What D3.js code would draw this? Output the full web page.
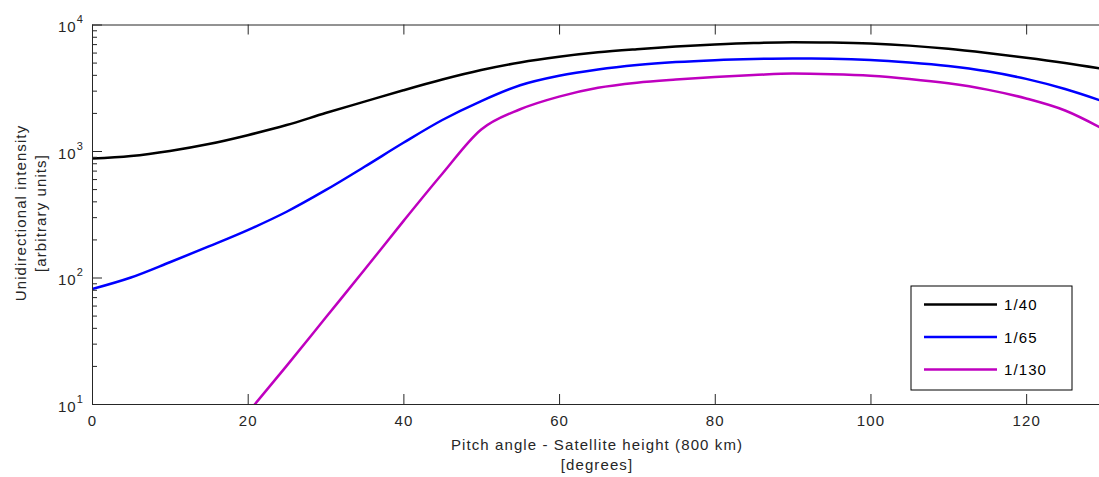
<!DOCTYPE html>
<html>
<head>
<meta charset="utf-8">
<script src="https://cdn.jsdelivr.net/npm/d3@7"></script>
<style>
  body { margin: 0; background: #fff; }
  svg { display: block; font-family: "Liberation Sans", Arial, sans-serif; }
  text { letter-spacing: 1.1px; }
</style>
</head>
<body>
<svg id="chart" width="1099" height="477"></svg>
<script>
// pitch angle samples (degrees)
var angles = [0,5,10,15,20,25,30,35,40,45,50,55,60,65,70,75,80,85,90,95,100,105,110,115,120,125,130];
var series40  = [871,912,1000,1135,1334,1603,1995,2455,3020,3673,4365,5012,5559,6026,6383,6699,6950,7145,7244,7194,7063,6808,6427,5957,5470,4966,4446];
var series65  = [81,100,132,176,237,331,490,750,1161,1758,2483,3311,3936,4416,4786,5047,5224,5333,5383,5358,5248,5012,4699,4266,3715,3090,2455];
var series130 = [null,null,null,null,8.5,20,48,115,279,661,1479,2138,2692,3162,3467,3673,3846,3981,4093,4046,3936,3715,3428,3055,2600,2089,1479];
var seriesNames = ['1/40','1/65','1/130'];
var seriesColors = ['#000000','#0000ff','#bf00bf'];
var xTicks = [0,20,40,60,80,100,120];
var yDecades = [10,100,1000,10000];

var svg = d3.select('#chart');
var plotLeft = 92, plotRight = 1104, plotTop = 24.5, plotBottom = 404;
var axisColor = '#262626';

var x = d3.scaleLinear().domain([0,130]).range([plotLeft,plotRight]);
var y = d3.scaleLog().domain([10,10000]).range([plotBottom,plotTop]);

svg.append('defs').append('clipPath').attr('id','plotclip')
  .append('rect').attr('x',plotLeft).attr('y',plotTop)
  .attr('width',plotRight-plotLeft).attr('height',plotBottom-plotTop);

// curves
var allSeries = [series40,series65,series130];
var line = d3.line()
  .defined(function(d){return d[1]!=null;})
  .x(function(d){return x(d[0]);})
  .y(function(d){return y(d[1]);})
  .curve(d3.curveMonotoneX);

var plot = svg.append('g').attr('clip-path','url(#plotclip)');
allSeries.forEach(function(s,i){
  var pts = angles.map(function(a,j){return [a,s[j]];});
  plot.append('path')
    .datum(pts)
    .attr('d',line)
    .attr('fill','none')
    .attr('stroke',seriesColors[i])
    .attr('stroke-width',2.5);
});

// axes, MATLAB style with ticks inside the box
function styleAxis(g){
  g.select('.domain').attr('stroke',axisColor);
  g.selectAll('.tick line').attr('stroke',axisColor);
}
var bottomAxis = d3.axisBottom(x).tickValues(xTicks).tickSizeInner(-10).tickSizeOuter(0).tickPadding(11);
var gx = svg.append('g').attr('transform','translate(0,'+plotBottom+')').call(bottomAxis);
styleAxis(gx);
gx.selectAll('text').attr('font-size',15).attr('fill',axisColor)
  .attr('font-family','Liberation Sans, Arial, sans-serif');

var topAxis = d3.axisTop(x).tickValues(xTicks).tickSizeInner(-10).tickSizeOuter(0).tickFormat('');
styleAxis(svg.append('g').attr('transform','translate(0,'+plotTop+')').call(topAxis));

var minorVals = [];
yDecades.slice(0,3).forEach(function(d){
  for (var k=2;k<10;k++) minorVals.push(d*k);
});
var leftMinor = d3.axisLeft(y).tickValues(minorVals).tickSizeInner(-5).tickSizeOuter(0).tickFormat('');
styleAxis(svg.append('g').attr('transform','translate('+plotLeft+',0)').call(leftMinor));
var leftMajor = d3.axisLeft(y).tickValues(yDecades).tickSizeInner(-10).tickSizeOuter(0).tickFormat('');
styleAxis(svg.append('g').attr('transform','translate('+plotLeft+',0)').call(leftMajor));

// power-of-ten labels
yDecades.forEach(function(d){
  var t = svg.append('text')
    .attr('x',84).attr('y',y(d)+7.5)
    .attr('text-anchor','end')
    .attr('font-size',15).attr('fill',axisColor);
  t.append('tspan').text('10');
  t.append('tspan').attr('dy',-9).attr('font-size',11).text(Math.round(Math.log10(d)));
});

// axis titles
var cx = (plotLeft+plotRight)/2 - 1;
var xl = svg.append('text').attr('text-anchor','middle').attr('font-size',15).attr('fill',axisColor);
xl.append('tspan').attr('x',cx).attr('y',450).text('Pitch angle - Satellite height (800 km)');
xl.append('tspan').attr('x',cx).attr('y',470).text('[degrees]');

var yl = svg.append('text').attr('text-anchor','middle').attr('font-size',15).attr('fill',axisColor)
  .attr('transform','translate(0,213) rotate(-90)');
yl.append('tspan').attr('x',0).attr('y',26).text('Unidirectional intensity');
yl.append('tspan').attr('x',0).attr('y',46).text('[arbitrary units]');

// legend
var lg = svg.append('g').attr('transform','translate(911,286)');
lg.append('rect').attr('width',161).attr('height',104).attr('fill','#fff')
  .attr('stroke','#000').attr('stroke-width',1);
seriesNames.forEach(function(n,i){
  var ly = 18.5 + i*32.5;
  lg.append('line').attr('x1',13).attr('x2',86).attr('y1',ly).attr('y2',ly)
    .attr('stroke',seriesColors[i]).attr('stroke-width',2.5);
  lg.append('text').attr('x',93).attr('y',ly+5.5).attr('font-size',15).attr('fill','#000').text(n);
});
</script>
</body>
</html>
